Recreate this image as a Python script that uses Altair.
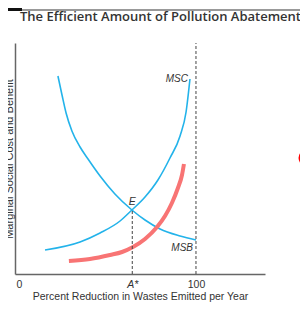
import altair as alt
import pandas as pd

# Curve samples (x: percent reduction, y: cost/benefit units)
msc_x = [14.7, 34.5, 45.8, 57.1, 63.8, 71.2, 78.5, 85.3, 91.0, 94.4, 96.6]
msc_y = [24, 32, 41, 53, 64, 77, 94, 116, 138, 162, 195]
msb_x = [22.0, 24.3, 26.6, 29.9, 34.5, 39.0, 45.8, 54.2, 63.8, 71.2, 79.7, 91.0, 100.0]
msb_y = [198, 179, 161, 143, 127, 115, 98, 80, 64, 54, 45, 38, 34]
red_x = [28.2, 40.1, 51.4, 58.2, 64.4, 71.2, 78.0, 82.5, 86.4, 89.8, 92.1, 93.2]
red_y = [13, 15, 19, 22, 27, 35, 47, 58, 71, 86, 99, 110]

A_STAR = 64
E_Y = 64
X_TICKS = [0, A_STAR, 100]
X_DOMAIN = [-2.26, 139]
Y_DOMAIN = [0, 231]

labels = ["MSC", "MSB"]
label_x = [95.5, 98.3]
label_y = [195, 26.5]

TITLE = "The Efficient Amount of Pollution Abatement"

BLUE = "#23b3ea"
RED = "#f87474"
GRAY = "#444444"

blue_df = pd.DataFrame(
    [{"series": "MSC", "i": i, "x": x, "y": y} for i, (x, y) in enumerate(zip(msc_x, msc_y))]
    + [{"series": "MSB", "i": i, "x": x, "y": y} for i, (x, y) in enumerate(zip(msb_x, msb_y))]
)
red_df = pd.DataFrame({"i": range(len(red_x)), "x": red_x, "y": red_y})

xs = alt.Scale(domain=X_DOMAIN, nice=False, zero=False)
ys = alt.Scale(domain=Y_DOMAIN, nice=False, zero=False)

xaxis = alt.Axis(
    values=X_TICKS,
    labelExpr=f"datum.value == {A_STAR} ? 'A*' : datum.label",
    labelFontStyle={"condition": {"test": f"datum.value == {A_STAR}", "value": "italic"}, "value": "normal"},
    grid=False, ticks=False, domain=True, domainColor="#666666", domainWidth=1.5,
    labelFont="Liberation Sans", labelFontSize=10.5, labelColor="#333333", labelPadding=5,
    labelFlush=False,
    title="Percent Reduction in Wastes Emitted per Year",
    titleFont="Liberation Sans", titleFontSize=10.5, titleFontWeight="normal",
    titleColor="#333333", titlePadding=2,
)
yaxis = alt.Axis(
    labels=False, grid=False, ticks=False, domain=True, domainColor="#666666", domainWidth=1.5,
    title="Marginal Social Cost and Benefit",
    titleFont="Liberation Sans", titleFontSize=11, titleFontWeight="normal",
    titleColor="#333333", titlePadding=1,
)

blue = alt.Chart(blue_df).mark_line(color=BLUE, strokeWidth=1.6, interpolate="monotone").encode(
    x=alt.X("x:Q", scale=xs, axis=xaxis),
    y=alt.Y("y:Q", scale=ys, axis=yaxis),
    detail="series:N", order="i:Q",
)
red = alt.Chart(red_df).mark_line(color=RED, strokeWidth=4, interpolate="monotone").encode(
    x=alt.X("x:Q", scale=xs), y=alt.Y("y:Q", scale=ys), order="i:Q"
)

rules_df = pd.DataFrame({"x": [100, A_STAR], "y": [0, 0], "y2": [Y_DOMAIN[1], E_Y]})
rules = alt.Chart(rules_df).mark_rule(color=GRAY, strokeWidth=1, strokeDash=[3, 2]).encode(
    x=alt.X("x:Q", scale=xs), y=alt.Y("y:Q", scale=ys), y2="y2:Q"
)

lab_df = pd.DataFrame({"t": labels, "x": label_x, "y": label_y})
lab = alt.Chart(lab_df).mark_text(
    align="right", baseline="middle", font="Liberation Sans", fontStyle="italic",
    fontSize=10, color="#333333"
).encode(x=alt.X("x:Q", scale=xs), y=alt.Y("y:Q", scale=ys), text="t:N")

e_df = pd.DataFrame({"t": ["E"], "x": [A_STAR], "y": [E_Y]})
e_lab = alt.Chart(e_df).mark_text(
    align="center", baseline="bottom", dy=-3, font="Liberation Sans", fontStyle="italic",
    fontSize=10.5, color="#333333"
).encode(x=alt.X("x:Q", scale=xs), y=alt.Y("y:Q", scale=ys), text="t:N")

dot_df = pd.DataFrame({"x": [162.5], "y": [116]})
dot = alt.Chart(dot_df).mark_point(filled=True, color="#ff0000", size=260, opacity=1).encode(
    x=alt.X("x:Q", scale=xs), y=alt.Y("y:Q", scale=ys)
)

title_df = pd.DataFrame({"t": [TITLE]})
title = alt.Chart(title_df).mark_text(
    align="left", baseline="alphabetic", font="Open Sans", fontSize=13, fontWeight=600,
    color="#333333"
).encode(x=alt.value(5), y=alt.value(-22), text="t:N")

top_bar = alt.Chart(pd.DataFrame({"a": [0]})).mark_rule(color="#111111", strokeWidth=4).encode(
    x=alt.value(-7), x2=alt.value(7), y=alt.value(-34)
)
top_line = alt.Chart(pd.DataFrame({"a": [0]})).mark_rule(color="#777777", strokeWidth=1.5).encode(
    x=alt.value(7), x2=alt.value(285), y=alt.value(-33)
)

chart = alt.layer(blue, red, rules, lab, e_lab, dot, title, top_bar, top_line).properties(
    width=250, height=231,
    autosize=alt.AutoSizeParams(type="none"),
    padding={"left": 7, "top": 35, "right": 35, "bottom": 29},
).configure_view(stroke=None)

chart.save("out.html", embed_options={"renderer": "svg", "actions": False})
